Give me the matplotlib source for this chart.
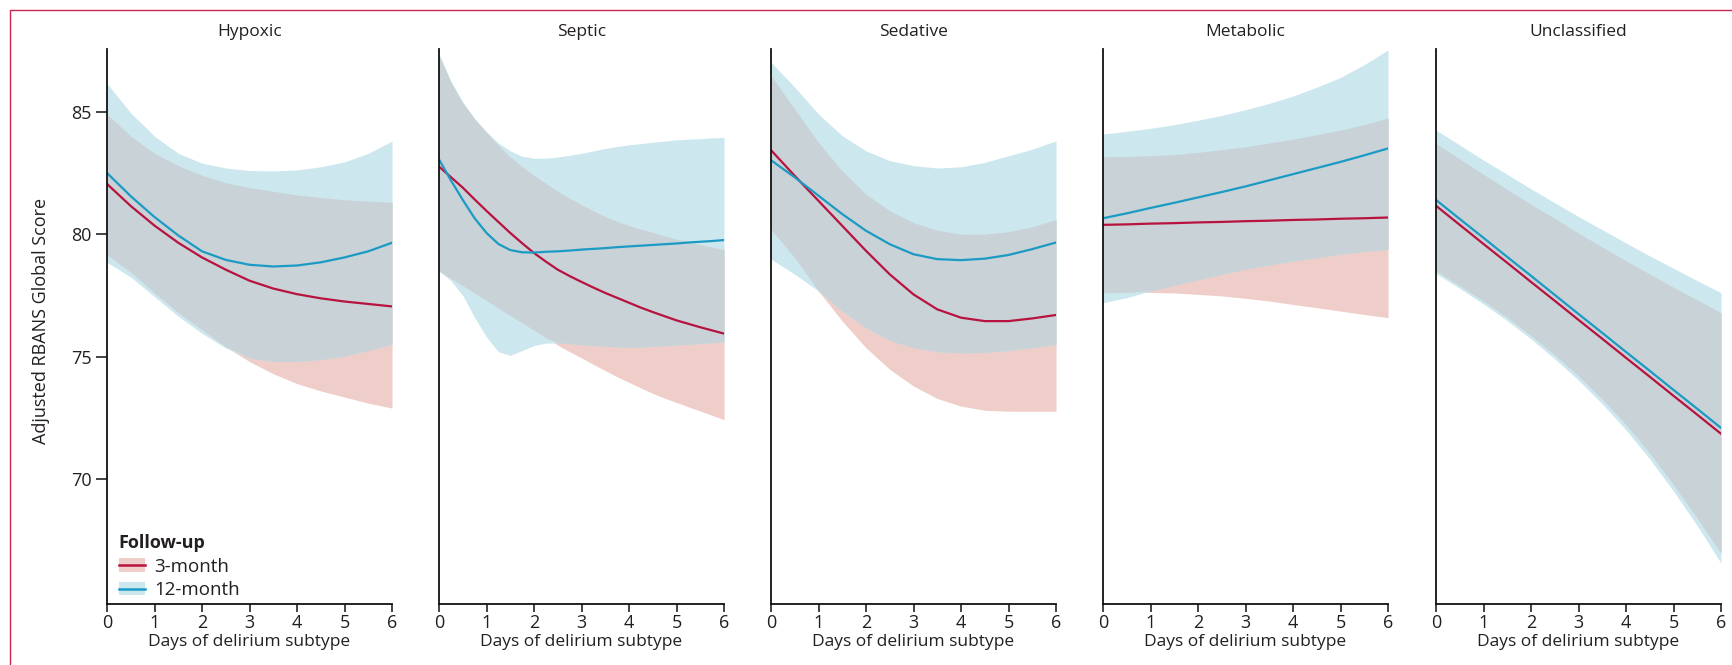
import numpy as np
import matplotlib
matplotlib.use("Agg")
import matplotlib.pyplot as plt
from matplotlib.patches import Patch, Rectangle
from matplotlib.lines import Line2D

plt.rcParams['font.family'] = ['Open Sans', 'DejaVu Sans']
TXT = '#231f20'

# Days of delirium subtype (x grid read every half day, septic every quarter day)
days = [0, 0.5, 1, 1.5, 2, 2.5, 3, 3.5, 4, 4.5, 5, 5.5, 6]
days_septic = [0, 0.25, 0.5, 0.75, 1, 1.25, 1.5, 1.75, 2, 2.25, 2.5, 2.75, 3,
               3.25, 3.5, 3.75, 4, 4.25, 4.5, 4.75, 5, 5.25, 5.5, 5.75, 6]
subtypes = ["Hypoxic", "Septic", "Sedative", "Metabolic", "Unclassified"]

# Hypoxic
hyp_3m = [82.05, 81.15, 80.35, 79.65, 79.05, 78.55, 78.1, 77.78, 77.55, 77.38, 77.25, 77.15, 77.05]
hyp_3m_lo = [79.15, 78.45, 77.6, 76.8, 76.1, 75.4, 74.8, 74.3, 73.9, 73.6, 73.35, 73.1, 72.9]
hyp_3m_hi = [84.9, 84.0, 83.3, 82.8, 82.4, 82.1, 81.9, 81.75, 81.6, 81.5, 81.4, 81.35, 81.3]
hyp_12m = [82.5, 81.55, 80.7, 79.95, 79.3, 78.95, 78.75, 78.68, 78.72, 78.85, 79.05, 79.3, 79.65]
hyp_12m_lo = [78.85, 78.25, 77.45, 76.65, 75.95, 75.35, 74.95, 74.8, 74.8, 74.88, 75.02, 75.25, 75.5]
hyp_12m_hi = [86.15, 84.95, 84.0, 83.3, 82.9, 82.7, 82.6, 82.58, 82.62, 82.75, 82.95, 83.3, 83.8]

# Septic
sep_3m = [82.76, 82.33, 81.9, 81.42, 80.95, 80.5, 80.05, 79.63, 79.23, 78.88, 78.55, 78.29, 78.05,
          77.82, 77.6, 77.4, 77.2, 77.0, 76.82, 76.65, 76.48, 76.34, 76.2, 76.07, 75.94]
sep_3m_lo = [78.5, 78.2, 77.9, 77.6, 77.29, 76.98, 76.68, 76.38, 76.08, 75.77, 75.47, 75.2, 74.95,
             74.68, 74.43, 74.18, 73.95, 73.72, 73.5, 73.3, 73.13, 72.95, 72.78, 72.6, 72.43]
sep_3m_hi = [87.3, 86.2, 85.35, 84.7, 84.15, 83.62, 83.15, 82.75, 82.4, 82.07, 81.75, 81.47, 81.2,
             80.95, 80.72, 80.52, 80.35, 80.2, 80.07, 79.93, 79.8, 79.69, 79.58, 79.47, 79.37]
sep_12m = [83.05, 82.2, 81.4, 80.65, 80.05, 79.6, 79.35, 79.26, 79.25, 79.28, 79.3, 79.33, 79.37,
           79.4, 79.43, 79.47, 79.5, 79.53, 79.56, 79.59, 79.62, 79.66, 79.69, 79.72, 79.76]
sep_12m_lo = [78.5, 78.1, 77.5, 76.6, 75.8, 75.2, 75.05, 75.25, 75.45, 75.55, 75.57, 75.53, 75.48,
              75.45, 75.42, 75.4, 75.38, 75.39, 75.42, 75.45, 75.47, 75.5, 75.53, 75.57, 75.6]
sep_12m_hi = [87.35, 86.25, 85.4, 84.72, 84.18, 83.72, 83.4, 83.18, 83.1, 83.1, 83.15, 83.22, 83.3,
              83.4, 83.5, 83.58, 83.65, 83.7, 83.75, 83.8, 83.85, 83.88, 83.9, 83.93, 83.95]

# Sedative
sed_3m = [83.43, 82.38, 81.36, 80.34, 79.32, 78.36, 77.54, 76.93, 76.59, 76.45, 76.45, 76.56, 76.7]
sed_3m_lo = [80.2, 79.04, 77.68, 76.45, 75.36, 74.48, 73.8, 73.29, 72.98, 72.81, 72.77, 72.77, 72.77]
sed_3m_hi = [86.47, 85.1, 83.74, 82.58, 81.63, 80.95, 80.47, 80.16, 80.0, 80.0, 80.1, 80.3, 80.6]
sed_12m = [83.02, 82.32, 81.57, 80.82, 80.14, 79.59, 79.18, 78.98, 78.94, 79.0, 79.15, 79.39, 79.66]
sed_12m_lo = [78.98, 78.36, 77.68, 76.86, 76.18, 75.66, 75.36, 75.2, 75.15, 75.17, 75.25, 75.36, 75.5]
sed_12m_hi = [87.02, 86.0, 84.9, 84.02, 83.4, 83.0, 82.8, 82.7, 82.75, 82.93, 83.2, 83.47, 83.81]

# Metabolic
met_3m = [80.38, 80.4, 80.43, 80.45, 80.48, 80.5, 80.53, 80.55, 80.58, 80.6, 80.63, 80.65, 80.68]
met_3m_lo = [77.61, 77.62, 77.62, 77.6, 77.54, 77.48, 77.38, 77.27, 77.13, 77.0, 76.86, 76.72, 76.59]
met_3m_hi = [83.16, 83.17, 83.2, 83.25, 83.34, 83.45, 83.57, 83.72, 83.88, 84.06, 84.25, 84.47, 84.74]
met_12m = [80.65, 80.85, 81.07, 81.28, 81.5, 81.72, 81.95, 82.2, 82.45, 82.7, 82.95, 83.22, 83.5]
met_12m_lo = [77.2, 77.41, 77.68, 77.91, 78.14, 78.36, 78.57, 78.74, 78.9, 79.04, 79.18, 79.29, 79.38]
met_12m_hi = [84.09, 84.2, 84.32, 84.47, 84.65, 84.85, 85.08, 85.34, 85.64, 86.0, 86.4, 86.92, 87.52]

# Unclassified
unc_3m = [81.16, 80.38, 79.6, 78.83, 78.05, 77.28, 76.5, 75.73, 74.95, 74.18, 73.4, 72.63, 71.85]
unc_3m_lo = [78.5, 77.9, 77.27, 76.6, 75.86, 75.07, 74.21, 73.26, 72.23, 71.06, 69.77, 68.4, 66.98]
unc_3m_hi = [83.7, 83.07, 82.44, 81.82, 81.22, 80.64, 80.04, 79.47, 78.91, 78.37, 77.83, 77.31, 76.79]
unc_12m = [81.4, 80.62, 79.85, 79.07, 78.3, 77.52, 76.74, 75.97, 75.19, 74.42, 73.64, 72.87, 72.09]
unc_12m_lo = [78.39, 77.79, 77.15, 76.47, 75.72, 74.91, 74.04, 73.07, 72.01, 70.82, 69.51, 68.1, 66.57]
unc_12m_hi = [84.25, 83.64, 83.02, 82.44, 81.85, 81.28, 80.72, 80.18, 79.64, 79.11, 78.61, 78.1, 77.61]

panels = [
    (days, hyp_3m, hyp_3m_lo, hyp_3m_hi, hyp_12m, hyp_12m_lo, hyp_12m_hi),
    (days_septic, sep_3m, sep_3m_lo, sep_3m_hi, sep_12m, sep_12m_lo, sep_12m_hi),
    (days, sed_3m, sed_3m_lo, sed_3m_hi, sed_12m, sed_12m_lo, sed_12m_hi),
    (days, met_3m, met_3m_lo, met_3m_hi, met_12m, met_12m_lo, met_12m_hi),
    (days, unc_3m, unc_3m_lo, unc_3m_hi, unc_12m, unc_12m_lo, unc_12m_hi),
]

red = '#b8123f'
blue = '#1b9bc4'
pink = '#efcdc9'
lightblue = '#cce7ee'
grey = '#c8d2d7'

W, H = 1732, 665
fig = plt.figure(figsize=(W / 100, H / 100), dpi=100)

# thin red frame like the journal figure box
fig.patches.append(Rectangle((10 / W, -0.1), 1.1, 1.1 - 10 / H, transform=fig.transFigure,
                             fill=False, edgecolor='#c8254f', linewidth=1.0))

lefts = [107, 439, 771, 1103, 1436]
for i, (name, data) in enumerate(zip(subtypes, panels)):
    ax = fig.add_axes([lefts[i] / W, 61 / H, 285 / W, 555 / H])
    x, m3, lo3, hi3, m12, lo12, hi12 = [np.array(d) for d in data]

    ax.fill_between(x, lo3, hi3, color=pink, lw=0)
    ax.fill_between(x, lo12, hi12, color=lightblue, lw=0)
    lo_both = np.maximum(lo3, lo12)
    hi_both = np.minimum(hi3, hi12)
    ax.fill_between(x, lo_both, hi_both, where=hi_both > lo_both, interpolate=True, color=grey, lw=0)

    ax.plot(x, m3, color=red, lw=1.6)
    ax.plot(x, m12, color=blue, lw=1.6)

    ax.set_xlim(0, 6)
    ax.set_ylim(64.9, 87.56)
    ax.set_xticks(range(7))
    for s in ['top', 'right']:
        ax.spines[s].set_visible(False)
    for s in ['left', 'bottom']:
        ax.spines[s].set_linewidth(1.3)
        ax.spines[s].set_color('#111111')
    ax.tick_params(axis='both', direction='out', width=1.1, colors='#111111',
                   labelcolor=TXT, labelsize=13)
    ax.tick_params(axis='x', length=6, pad=1)
    if i == 0:
        ax.set_yticks([70, 75, 80, 85])
        ax.tick_params(axis='y', length=8, pad=3)
        ax.set_ylabel("Adjusted RBANS Global Score", fontsize=13, color=TXT)
        ax.yaxis.set_label_coords(-0.2, 0.51)
    else:
        ax.set_yticks([])
    ax.set_title(name, fontsize=12.5, color=TXT, pad=9)
    ax.set_xlabel("Days of delirium subtype", fontsize=12.5, color=TXT, labelpad=2)

    if i == 0:
        h3 = (Patch(facecolor=pink, edgecolor='none'), Line2D([], [], color=red, lw=1.8))
        h12 = (Patch(facecolor=lightblue, edgecolor='none'), Line2D([], [], color=blue, lw=1.8))
        leg = ax.legend([h3, h12], ["3-month", "12-month"], title="Follow-up", loc='upper left',
                        bbox_to_anchor=(-0.005, 0.15), frameon=False, fontsize=13.5,
                        title_fontproperties={'weight': 'bold', 'size': 13}, alignment='left',
                        handlelength=1.4, handletextpad=0.5, labelspacing=0.3, borderpad=0.2)
        for t in leg.get_texts():
            t.set_color(TXT)
        leg.get_title().set_color(TXT)

plt.savefig("out.png", dpi=100)
